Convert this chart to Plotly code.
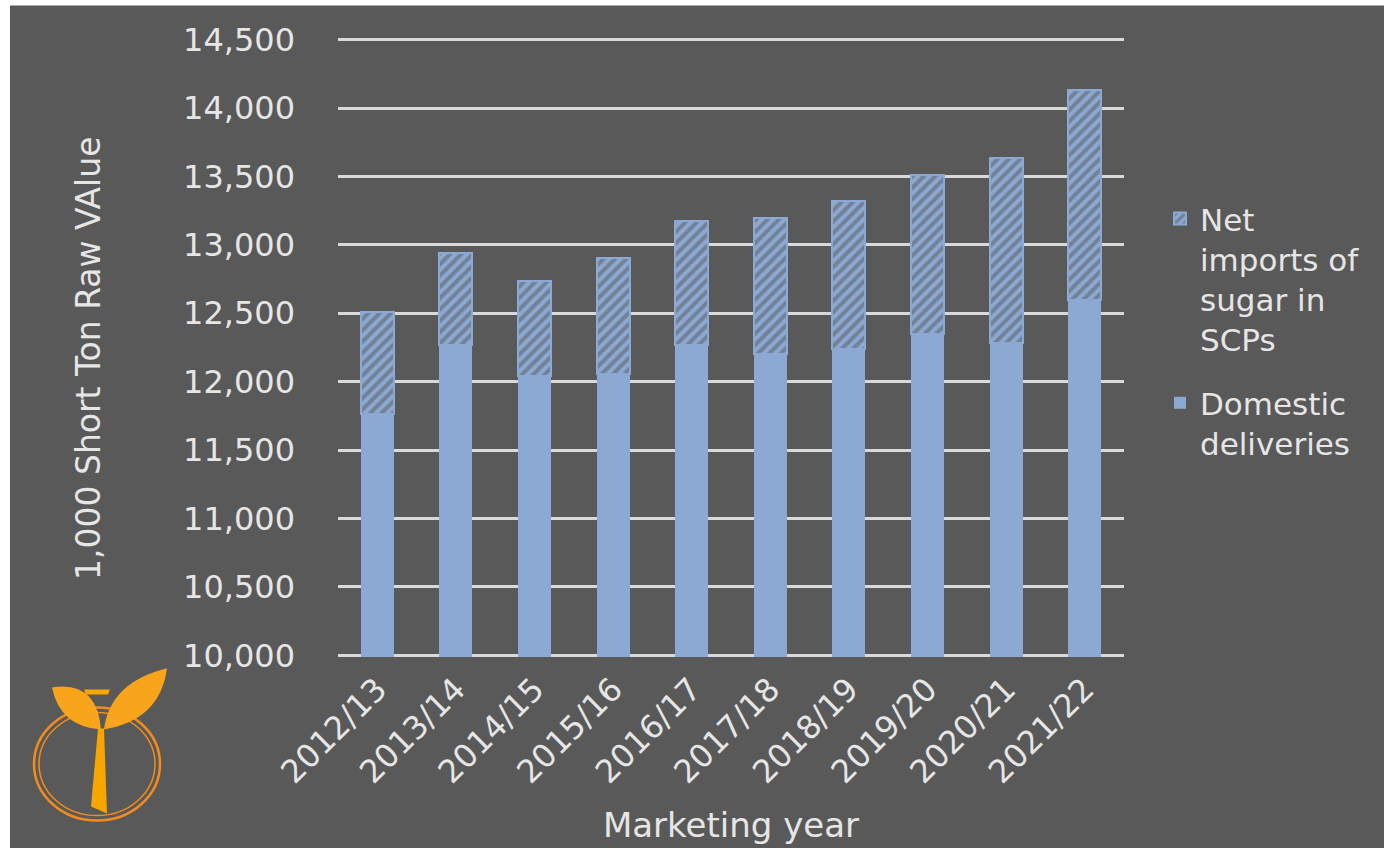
import plotly.graph_objects as go

years = ["2012/13", "2013/14", "2014/15", "2015/16", "2016/17",
         "2017/18", "2018/19", "2019/20", "2020/21", "2021/22"]
domestic = [11766, 12266, 12039, 12059, 12266, 12205, 12241, 12351, 12282, 12600]
net_imports = [744, 678, 700, 848, 912, 995, 1083, 1159, 1355, 1534]
y_ticks = [10000, 10500, 11000, 11500, 12000, 12500, 13000, 13500, 14000, 14500]

BG = "#595959"
BAR = "#8BA9D3"
TXT = "#E6E6E6"
FONT = "DejaVu Sans"

W, H = 1384, 848
YMIN, YMAX, PAD = 10000, 14500, 12
# pixel rows of YMIN/YMAX gridlines in the reference
TOPPX, BOTPX = 40, 655
SC = (BOTPX - TOPPX) / (YMAX - YMIN)
T = TOPPX - PAD * SC
Bpx = BOTPX + PAD * SC
L, R = 338, 260
B = H - Bpx
PW, PH = W - L - R, Bpx - T


def px(x):
    return (x - L) / PW


def py(y):
    return (Bpx - y) / PH


def path(cmds):
    out = []
    for c in cmds:
        if isinstance(c, str):
            out.append(c)
        else:
            out.append(f"{px(c[0]):.5f},{py(c[1]):.5f}")
    return " ".join(out)


fig = go.Figure()
fig.add_trace(go.Bar(
    x=years, y=domestic, name="Domestic<br>deliveries", legendgroup="d", legendrank=2,
    marker=dict(color=BAR, line=dict(width=0)),
))
fig.add_trace(go.Bar(
    x=years, y=net_imports, name="Net<br>imports of<br>sugar in<br>SCPs", legendgroup="n",
    legendrank=1,
    marker=dict(color=BAR, line=dict(color=BAR, width=2),
                pattern=dict(shape="/", fgcolor=BG, bgcolor=BAR, size=8, solidity=0.5)),
))

shapes = [
    dict(type="rect", xref="paper", yref="paper", x0=px(0), x1=px(10), y0=py(H), y1=py(0),
         fillcolor="white", line=dict(width=0), layer="below"),
    dict(type="rect", xref="paper", yref="paper", x0=px(0), x1=px(W), y0=py(6), y1=py(0),
         fillcolor="white", line=dict(width=0), layer="below"),
]
# logo (decoration)
ring = "#F28C1E"
shapes += [
    dict(type="circle", xref="paper", yref="paper", x0=px(34), x1=px(160), y0=py(820), y1=py(707),
         line=dict(color=ring, width=2.5)),
    dict(type="circle", xref="paper", yref="paper", x0=px(39), x1=px(155), y0=py(815), y1=py(712),
         line=dict(color=ring, width=1.5)),
    dict(type="path", xref="paper", yref="paper",
         path=path(["M", (52, 687), "Q", (97, 680), (101, 729), "Q", (60, 726), (52, 687), "Z"]),
         fillcolor="#F9A51B", line=dict(width=0)),
    dict(type="path", xref="paper", yref="paper",
         path=path(["M", (104, 729), "Q", (110, 682), (167, 668), "Q", (160, 720), (104, 729), "Z"]),
         fillcolor="#F9A51B", line=dict(width=0)),
    dict(type="path", xref="paper", yref="paper",
         path=path(["M", (98, 728), "L", (104, 728), "L", (107, 813), "L", (91, 806), "Z"]),
         fillcolor="#F7A600", line=dict(width=0)),
    dict(type="path", xref="paper", yref="paper",
         path=path(["M", (84, 689), "L", (110, 689), "L", (108, 694), "L", (86, 694), "Z"]),
         fillcolor="#F7A600", line=dict(width=0)),
]

fig.update_layout(
    width=W, height=H,
    margin=dict(l=L, r=R, t=T, b=B, autoexpand=False),
    paper_bgcolor=BG, plot_bgcolor=BG,
    barmode="stack", bargap=0.58,
    font=dict(family=FONT, color=TXT, size=32),
    showlegend=True,
    legend=dict(x=px(1160), y=py(192), xanchor="left", yanchor="top",
                font=dict(family=FONT, size=31, color=TXT),
                bgcolor="rgba(0,0,0,0)", valign="top", tracegroupgap=20,
                traceorder="grouped"),
    xaxis=dict(tickangle=-45, tickfont=dict(size=32), showgrid=False, zeroline=False,
               showline=False, ticks="", automargin=False, ticklabelstandoff=6,
               title=dict(text="Marketing year", font=dict(size=34), standoff=23)),
    yaxis=dict(range=[YMIN - PAD, YMAX + PAD], tickvals=y_ticks, tickformat=",",
               showgrid=True, gridcolor="#D9D9D9", gridwidth=2.5, zeroline=False,
               showline=False, ticks="", ticklabelstandoff=42, automargin=False,
               tickfont=dict(size=32)),
    annotations=[dict(text="1,000 Short Ton Raw VAlue", textangle=-90, showarrow=False,
                      xref="paper", yref="paper", x=px(88), y=py(358),
                      xanchor="center", yanchor="middle", font=dict(size=33, color=TXT))],
    shapes=shapes,
)

fig.write_html("out.html", post_script="document.body.style.margin='0';",
               config={"displayModeBar": False})
